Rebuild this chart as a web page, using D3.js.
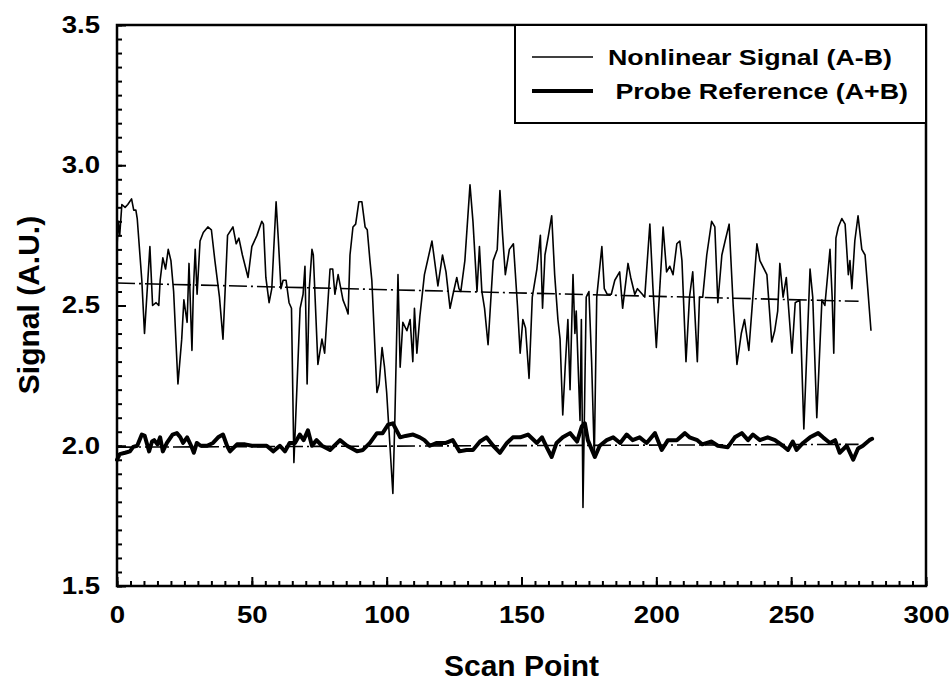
<!DOCTYPE html>
<html><head><meta charset="utf-8">
<script src="https://cdn.jsdelivr.net/npm/d3@7"></script>
<style>body{margin:0;background:#fff}</style>
</head><body><svg id="c" width="949" height="681"></svg>
<script>
// ---- data ----
const scanNonlinear = [0,0.5,1,1.8,3,4,5.4,6.2,7,7.5,9.2,10.2,12.2,13.2,14.5,15.5,16,17,18,19,20,21,22.6,24,24.8,26,26.7,27.8,28.3,29,29.7,30.8,32,33.7,35,36.3,38,39.3,41,43,44.2,45.2,46.5,48.6,50,51.9,53.7,54.3,55.2,56.4,57.4,59,59.8,60.8,61.6,62.7,63.8,64.7,65.6,67.9,69,69.7,70.5,71.3,72.3,72.8,74.5,76,77,79,80,80.8,82,83,83.8,85,85.7,86.4,87.5,88.5,89.7,90.8,92,92.8,93.8,94.5,96.4,97.2,98.3,99.2,100,102.3,103,104.2,105,106,107.5,108.7,109.7,110.3,111.2,112.3,114,116.8,119,120.7,122,123.5,124.6,126,126.8,127.5,129,130.9,132,133.5,134.4,135.3,136.3,137.6,139.5,141,142,143,144,145.5,147,148.5,149.5,150.5,151.5,152.8,154,155.7,157,157.8,158.7,160,161.2,162.3,163.5,164.3,165.3,166.2,167.2,168,169.1,169.8,170.3,171.7,172.2,172.8,174,175,176,177,177.9,179.8,180.7,181.8,183.3,184.6,186.4,187.5,189.5,190.5,192,193,195.7,197.6,198.7,200,202,202.5,203.8,205,206.2,207.6,208.7,209.5,211,212.3,213.5,215.2,216,217.2,218.7,220.5,221.7,222.8,224.3,225.5,227,228.5,229.9,231.5,232.7,234.3,237.3,238.4,241,242.8,243.9,245,245.8,247,248.2,250.3,251.5,253.2,254.7,257,258,259.5,261.4,262.5,264.4,265.2,265.8,266.6,267.5,268.8,270,271.2,271.8,272.5,273.6,274.8,276.2,277.4,278.4,279.6];
const nonlinearSignal = [2.71,2.80,2.75,2.86,2.85,2.86,2.88,2.84,2.84,2.81,2.59,2.40,2.71,2.50,2.51,2.50,2.59,2.67,2.63,2.70,2.66,2.55,2.22,2.38,2.52,2.44,2.65,2.34,2.55,2.70,2.54,2.73,2.76,2.78,2.77,2.66,2.53,2.38,2.75,2.78,2.72,2.74,2.68,2.60,2.71,2.75,2.80,2.79,2.60,2.51,2.56,2.87,2.74,2.56,2.59,2.59,2.51,2.49,1.94,2.49,2.54,2.64,2.22,2.56,2.70,2.68,2.29,2.38,2.33,2.63,2.63,2.54,2.61,2.56,2.52,2.49,2.47,2.68,2.78,2.79,2.87,2.87,2.78,2.77,2.66,2.59,2.19,2.22,2.35,2.28,2.19,1.83,2.08,2.61,2.28,2.44,2.41,2.45,2.30,2.49,2.33,2.46,2.61,2.73,2.57,2.68,2.62,2.49,2.54,2.60,2.56,2.55,2.66,2.93,2.80,2.55,2.71,2.55,2.49,2.36,2.66,2.70,2.91,2.75,2.61,2.70,2.72,2.50,2.33,2.45,2.42,2.24,2.53,2.63,2.75,2.49,2.68,2.75,2.82,2.61,2.45,2.38,2.11,2.28,2.45,2.20,2.61,2.40,2.48,2.09,2.45,1.78,2.53,2.55,2.30,1.96,2.53,2.71,2.56,2.54,2.54,2.59,2.62,2.49,2.65,2.60,2.54,2.56,2.53,2.79,2.57,2.35,2.68,2.78,2.62,2.64,2.61,2.72,2.73,2.66,2.30,2.53,2.62,2.30,2.53,2.53,2.68,2.80,2.78,2.51,2.68,2.73,2.79,2.50,2.29,2.40,2.45,2.34,2.72,2.66,2.61,2.37,2.41,2.48,2.65,2.53,2.60,2.33,2.51,2.52,2.06,2.63,2.53,2.10,2.52,2.50,2.70,2.53,2.33,2.74,2.78,2.81,2.79,2.61,2.66,2.56,2.73,2.82,2.70,2.68,2.56,2.41];

const scanReference = [0,1,3,4.8,6,7.5,9.2,10.3,11.9,13,13.8,15,16,17,18.5,20.6,22.2,23.5,24.5,26,27.5,28.5,29.6,31,33.4,35.6,37.5,39.3,40.8,41.9,44.5,47.5,50,53,55.5,57.9,60.4,62.3,64,66,67.8,69.2,70.8,72.3,74,76,79,82.7,85.3,89,91.2,93.8,96.4,98.5,100.5,102.3,104.2,105,107,109.8,112.3,114,116,118.6,122,124.5,127,129.6,132,134.6,137,139.5,142,144.6,146.8,149.5,152.4,155.7,157.6,159.6,161.2,163,165.3,168,170.6,172.4,173.5,174.6,177.2,179,181.6,184,186.6,189,191.2,193.8,196.4,199.5,202,204.3,207.6,210.6,212.3,215.2,217,220.5,222.8,226.5,229.1,231.7,234,235.8,238.4,241.3,244,246.9,248.8,250.6,252,254.4,257,260,261.8,264.4,266.3,268,270.6,273,274.8,276.6,279,280];
const probeReference = [1.95,1.97,1.975,1.98,1.996,2.0,2.04,2.035,1.98,2.015,2.02,2.005,2.03,1.98,2.01,2.04,2.045,2.03,2.01,2.03,2.0,1.975,2.01,2.0,2.0,2.01,2.03,2.04,2.0,1.98,2.005,2.005,2.0,2.0,2.0,1.98,2.0,1.98,2.01,2.01,2.04,2.02,2.055,2.0,2.02,2.0,1.985,2.02,2.0,1.98,1.985,2.01,2.045,2.045,2.075,2.08,2.045,2.03,2.035,2.04,2.03,2.02,2.0,2.01,2.01,2.02,1.98,1.985,1.985,2.015,2.03,2.0,1.975,2.01,2.03,2.03,2.04,2.01,2.03,1.99,1.96,2.01,2.03,2.045,2.015,2.07,2.08,2.02,1.96,2.0,2.02,2.03,2.01,2.04,2.02,2.03,2.01,2.045,1.985,2.02,2.02,2.045,2.03,2.02,2.005,2.015,2.0,1.995,2.03,2.045,2.02,2.04,2.02,2.03,2.02,2.0,1.985,2.015,1.985,2.01,2.03,2.045,2.03,2.01,2.02,1.975,2.0,1.95,1.99,2.0,2.02,2.025];

const trendScan = [0, 275];
const trendNonlinear = [2.58, 2.515];
const trendReference = [1.995, 2.005];

const xTicks = [0, 50, 100, 150, 200, 250, 300];
const yTicks = [1.5, 2.0, 2.5, 3.0, 3.5];
const seriesNames = ["Nonlinear Signal (A-B)", " Probe Reference (A+B)"];
const xTitle = "Scan Point";
const yTitle = "Signal (A.U.)";

// ---- drawing ----
const W = 949, H = 681, m = {l: 117, r: 23, t: 25, b: 95};
const svg = d3.select('#c');
const font = '"Liberation Sans", Arial, Helvetica, sans-serif';
const x = d3.scaleLinear().domain([0, 300]).range([m.l, W - m.r]);
const y = d3.scaleLinear().domain([1.5, 3.5]).range([H - m.b, m.t]);

function stretch(sel, f) {
  sel.each(function () {
    const w = this.getComputedTextLength();
    d3.select(this).attr('textLength', w * f).attr('lengthAdjust', 'spacingAndGlyphs');
  });
}

const line = d3.line().x(d => x(d[0])).y(d => y(d[1]));

// trend lines (dash-dot)
[trendNonlinear, trendReference].forEach(t => {
  svg.append('path')
    .datum(trendScan.map((s, i) => [s, t[i]]))
    .attr('d', line).attr('fill', 'none').attr('stroke', '#000')
    .attr('stroke-width', 1.6).attr('stroke-dasharray', '18,4,2,4');
});

// probe reference (thick)
svg.append('path')
  .datum(scanReference.map((s, i) => [s, probeReference[i]]))
  .attr('d', line).attr('fill', 'none').attr('stroke', '#000')
  .attr('stroke-width', 4).attr('stroke-linejoin', 'round').attr('stroke-linecap', 'round');

// nonlinear signal (thin)
svg.append('path')
  .datum(scanNonlinear.map((s, i) => [s, nonlinearSignal[i]]))
  .attr('d', line).attr('fill', 'none').attr('stroke', '#000')
  .attr('stroke-width', 1.6).attr('stroke-linejoin', 'round');

// axes: minor ticks
const gxMinor = svg.append('g').attr('transform', `translate(0,${H - m.b})`)
  .call(d3.axisBottom(x).tickValues(d3.range(0, 301, 5)).tickSize(-5).tickFormat(''));
const gyMinor = svg.append('g').attr('transform', `translate(${m.l},0)`)
  .call(d3.axisLeft(y).tickValues(d3.range(0, 41).map(i => 1.5 + i * 0.05)).tickSize(-5).tickFormat(''));
[gxMinor, gyMinor].forEach(g => { g.select('.domain').remove(); g.selectAll('line').attr('stroke-width', 2); });

// axes: major ticks + labels
const gx = svg.append('g').attr('transform', `translate(0,${H - m.b})`)
  .call(d3.axisBottom(x).tickValues(xTicks).tickSize(-9).tickPadding(21).tickFormat(d3.format('d')));
const gy = svg.append('g').attr('transform', `translate(${m.l},0)`)
  .call(d3.axisLeft(y).tickValues(yTicks).tickSize(-9).tickPadding(17).tickFormat(d3.format('.1f')));
[gx, gy].forEach(g => {
  g.select('.domain').remove();
  g.selectAll('line').attr('stroke-width', 2);
  g.selectAll('text').attr('font-family', font).attr('font-weight', 'bold')
    .attr('font-size', 23).attr('fill', '#000');
  stretch(g.selectAll('text'), 1.2);
});

// frame
svg.append('rect').attr('x', m.l).attr('y', m.t)
  .attr('width', W - m.r - m.l).attr('height', H - m.b - m.t)
  .attr('fill', 'none').attr('stroke', '#000').attr('stroke-width', 2.5);

// legend
const lg = svg.append('g');
lg.append('rect').attr('x', 515).attr('y', m.t).attr('width', W - m.r - 515).attr('height', 123 - m.t)
  .attr('fill', '#fff').attr('stroke', '#000').attr('stroke-width', 2);
const legendY = [57, 91], legendW = [1.6, 4], legendTextX = [608, 608], legendTextLen = [284, 300];
seriesNames.forEach((n, i) => {
  lg.append('line').attr('x1', 532).attr('x2', 593).attr('y1', legendY[i]).attr('y2', legendY[i])
    .attr('stroke', '#000').attr('stroke-width', legendW[i]);
  lg.append('text').attr('x', legendTextX[i]).attr('y', legendY[i] + 8)
    .attr('font-family', font).attr('font-weight', 'bold').attr('font-size', 22)
    .attr('xml:space', 'preserve').style('white-space', 'pre')
    .attr('textLength', legendTextLen[i]).attr('lengthAdjust', 'spacingAndGlyphs')
    .text(n);
});

// axis titles
svg.append('text').attr('x', (m.l + W - m.r) / 2).attr('y', 676)
  .attr('text-anchor', 'middle').attr('font-family', font).attr('font-weight', 'bold')
  .attr('font-size', 30).text(xTitle);
svg.append('text').attr('transform', `translate(39,305) rotate(-90)`)
  .attr('text-anchor', 'middle').attr('font-family', font).attr('font-weight', 'bold')
  .attr('font-size', 30).text(yTitle);
</script></body></html>
